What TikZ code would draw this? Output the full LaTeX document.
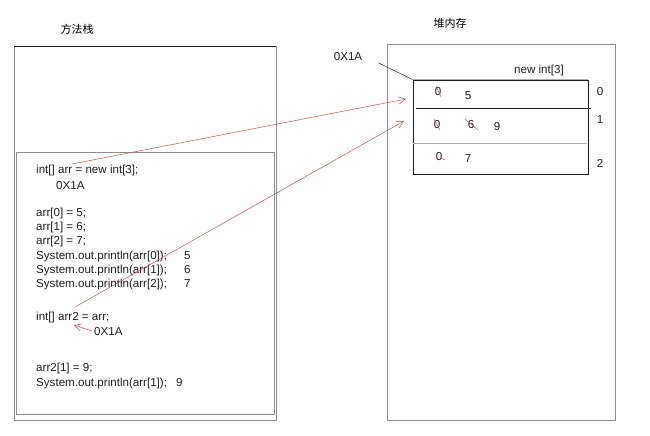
\documentclass[tikz,border=0pt]{standalone}
\usepackage{fontspec}
\setmainfont{Liberation Sans}
\newfontfamily\cjk{Noto Sans CJK SC}
\usepackage{xcolor}
\definecolor{inkred}{HTML}{C8504E}
\definecolor{frame}{HTML}{8C8C8C}
\definecolor{pen}{HTML}{1E1E1E}
\usetikzlibrary{arrows.meta, positioning}

\begin{document}
\begin{tikzpicture}[
  x=1pt, y=-1pt,
  font=\fontsize{11.6}{13}\selectfont,
  code/.style={anchor=west, inner sep=0pt, text=pen},
  cell/.style={inner sep=0pt, text=pen},
  box/.style={draw=frame, line width=0.8pt},
  ref/.style={draw=inkred, line width=0.5pt, -{Straight Barb[length=2.5mm, width=2.6mm]}},
  strike/.style={draw=inkred, line width=0.5pt}
]
  \useasboundingbox (0,0) rectangle (650,436);

  % method stack
  \node[font=\cjk\fontsize{11}{13}\selectfont] (stacklbl) at (77,29) {方法栈};
  \draw[box] (14,46) rectangle (276,420);
  \draw[draw=pen, line width=0.8pt] (14,46) -- (276,46);
  \draw[box] (16,152) rectangle (274,414);

  \node[code] (decl) at (36,170) {int[] arr = new int[3];};
  \node[code] (addr1) at (56,186) {0X1A};
  \foreach \i/\y/\v in {0/213/5, 1/227/6, 2/241/7} {
    \node[code] (set\i) at (36,\y) {arr[\i] = \v;};
  }
  \foreach \i/\y/\v in {0/256/5, 1/270/6, 2/284/7} {
    \node[code] (prt\i) at (36,\y) {System.out.println(arr[\i]);};
    \node[code] (out\i) at (184,\y) {\v};
  }
  \node[code] (decl2) at (36,317) {int[] arr2 = arr;};
  \node[code] (addr2) at (94,332) {0X1A};
  \node[code] (set9) at (36,368) {arr2[1] = 9;};
  \node[code] (prt9) at (36,383) {System.out.println(arr[1]);};
  \node[code] (out9) at (176,383) {9};

  % heap
  \node[font=\cjk\fontsize{11}{13}\selectfont] (heaplbl) at (450,23) {堆内存};
  \draw[box] (387,44) rectangle (615,420);
  \node[text=pen] (addr) at (348,57) {0X1A};
  \node[draw=pen, line width=0.8pt, minimum width=175pt, minimum height=94pt,
    inner sep=0pt] (arr) at (500.5,127) {};
  \draw[draw=frame!70, line width=0.8pt] (arr.north west) -- (arr.north east);
  \draw[draw=pen, line width=0.8pt] (416,108) -- (591,108);
  \draw[draw=frame!70, line width=0.8pt] (413,143) -- (587,143);
  \node[text=pen] (newlbl) at (539,71) {new int[3]};
  \draw[draw=pen, line width=0.5pt] ([shift={(13,6)}]addr.east) -- (arr.north west);

  \foreach \i/\y in {0/92, 1/120, 2/163} {
    \node[cell] (idx\i) at (600,\y) {\i};
  }
  \node[cell] (c00) at (438,92) {0};
  \node[cell] (c01) at (468,96) {5};
  \node[cell] (c10) at (437,125) {0};
  \node[cell] (c11) at (471,125) {6};
  \node[cell] (c12) at (497,127) {9};
  \node[cell] (c20) at (439,157) {0};
  \node[cell] (c21) at (468,159) {7};

  % crossed out values
  \draw[strike] ([shift={(-2,-6)}]c00.center) -- ([shift={(3,5)}]c00.center);
  \draw[strike] ([shift={(-3,-6)}]c10.center) -- ([shift={(3,5)}]c10.center);
  \draw[strike] ([shift={(-6,-6)}]c11.center) -- ([shift={(7,5)}]c11.center);
  \draw[strike] ([shift={(2,1)}]c20.center) -- ([shift={(6,3)}]c20.center);

  % references
  \coordinate (from1) at (72,164);
  \coordinate (to1) at (406,99);
  \coordinate (from2) at (75,307);
  \coordinate (to2) at (404,121);
  \coordinate (arr2mark) at (74,325);
  \draw[ref] (from1) -- (to1);
  \draw[ref] (from2) -- (to2);
  \draw[ref] ([shift={(-2,-1)}]addr2.west) -- (arr2mark);
\end{tikzpicture}
\end{document}
